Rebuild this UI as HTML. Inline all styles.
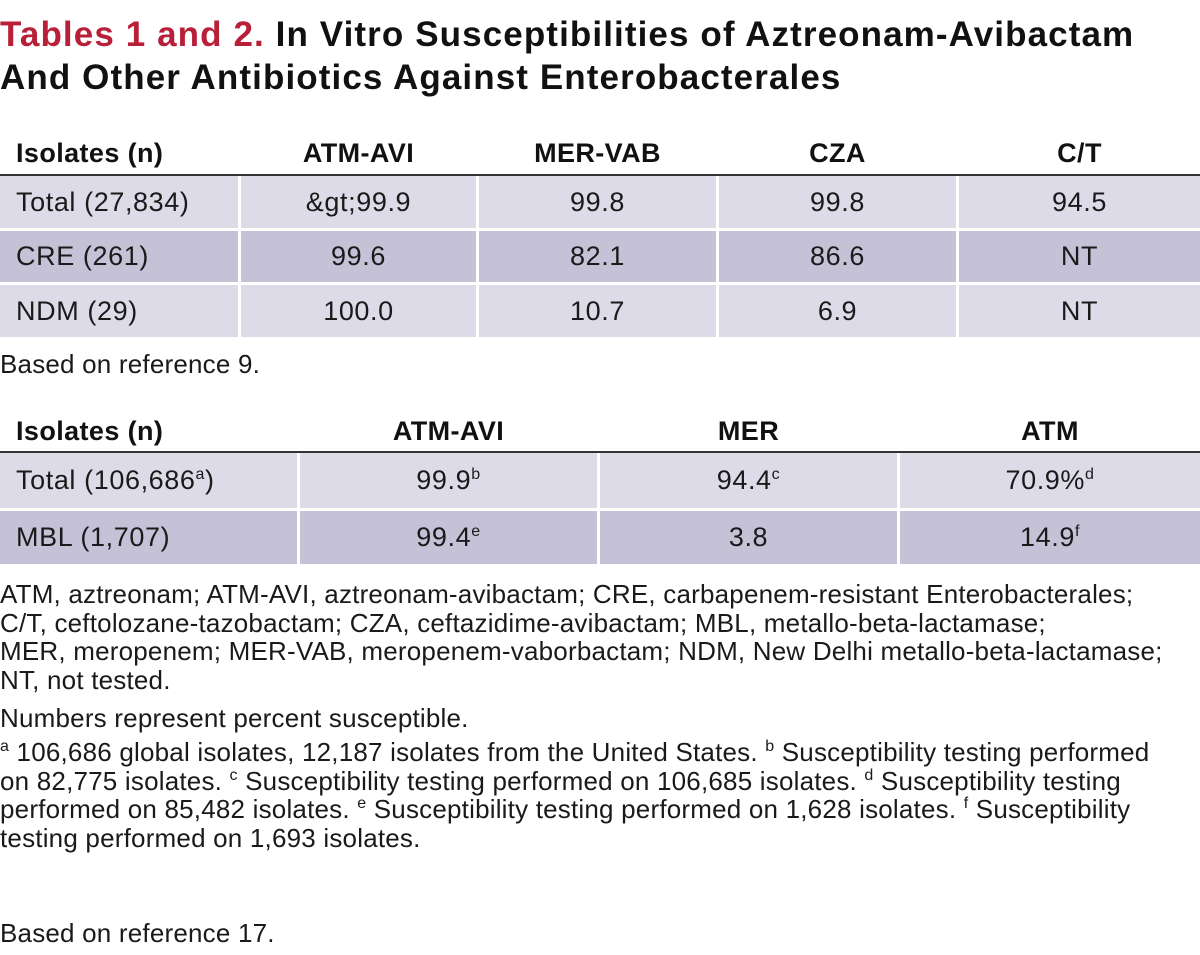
<!DOCTYPE html>
<html><head><meta charset="utf-8"><style>
body{margin:0;width:1200px;height:955px;background:#fff;font-family:"Liberation Sans",sans-serif;color:#1a1a1a;position:relative;overflow:hidden}
.t{position:absolute;left:0;white-space:nowrap}
h1{position:absolute;left:0;top:13px;margin:0;font-size:35px;line-height:43px;font-weight:bold;letter-spacing:1.1px;white-space:nowrap;color:#111}
h1 span{color:#b8203a}
.row{position:absolute;left:0;width:1200px;display:flex}
.row>div{box-sizing:border-box;font-size:27px;letter-spacing:0.6px;display:flex;align-items:center;justify-content:center;border-right:3px solid #fff;white-space:nowrap}
.row>div:last-child{border-right:none}
.row>div:first-child{justify-content:flex-start;padding-left:16px}
.hd>div{font-weight:bold;color:#111;letter-spacing:0.4px}
.l{background:#dddbe8}.d{background:#c5c1d6}
.line{position:absolute;left:0;width:1200px;height:2px;background:#333}
sup{font-size:16px;vertical-align:10px;line-height:0}
.f{font-size:26px;letter-spacing:0.2px;line-height:28.6px}
</style></head><body>
<h1><span>Tables 1 and 2.</span> In Vitro Susceptibilities of Aztreonam-Avibactam<br>And Other Antibiotics Against Enterobacterales</h1>

<div class="row hd" style="top:133px;height:40px"><div style="width:241px">Isolates (n)</div><div style="width:238px">ATM-AVI</div><div style="width:240px">MER-VAB</div><div style="width:240px">CZA</div><div style="width:241px">C/T</div></div>
<div class="line" style="top:174px"></div>
<div class="row l" style="top:176px;height:52px"><div style="width:241px">Total (27,834)</div><div style="width:238px">&amp;gt;99.9</div><div style="width:240px">99.8</div><div style="width:240px">99.8</div><div style="width:241px">94.5</div></div>
<div class="row d" style="top:231px;height:51px"><div style="width:241px">CRE (261)</div><div style="width:238px">99.6</div><div style="width:240px">82.1</div><div style="width:240px">86.6</div><div style="width:241px">NT</div></div>
<div class="row l" style="top:285px;height:52px"><div style="width:241px">NDM (29)</div><div style="width:238px">100.0</div><div style="width:240px">10.7</div><div style="width:240px">6.9</div><div style="width:241px">NT</div></div>
<div class="t f" style="top:350px">Based on reference 9.</div>

<div class="row hd" style="top:411px;height:40px"><div style="width:300px">Isolates (n)</div><div style="width:300px">ATM-AVI</div><div style="width:300px">MER</div><div style="width:300px">ATM</div></div>
<div class="line" style="top:451px"></div>
<div class="row l" style="top:453px;height:55px"><div style="width:300px"><span>Total (106,686<sup>a</sup>)</span></div><div style="width:300px"><span>99.9<sup>b</sup></span></div><div style="width:300px"><span>94.4<sup>c</sup></span></div><div style="width:300px"><span>70.9%<sup>d</sup></span></div></div>
<div class="row d" style="top:511px;height:53px"><div style="width:300px">MBL (1,707)</div><div style="width:300px"><span>99.4<sup>e</sup></span></div><div style="width:300px">3.8</div><div style="width:300px"><span>14.9<sup>f</sup></span></div></div>

<div class="t f" style="top:580px">ATM, aztreonam; ATM-AVI, aztreonam-avibactam; CRE, carbapenem-resistant Enterobacterales;<br>C/T, ceftolozane-tazobactam; CZA, ceftazidime-avibactam; MBL, metallo-beta-lactamase;<br>MER, meropenem; MER-VAB, meropenem-vaborbactam; NDM, New Delhi metallo-beta-lactamase;<br>NT, not tested.</div>
<div class="t f" style="top:704px">Numbers represent percent susceptible.</div>
<div class="t f" style="top:738px"><sup>a</sup> 106,686 global isolates, 12,187 isolates from the United States. <sup>b</sup> Susceptibility testing performed<br>on 82,775 isolates. <sup>c</sup> Susceptibility testing performed on 106,685 isolates. <sup>d</sup> Susceptibility testing<br>performed on 85,482 isolates. <sup>e</sup> Susceptibility testing performed on 1,628 isolates. <sup>f</sup> Susceptibility<br>testing performed on 1,693 isolates.</div>
<div class="t f" style="top:919px">Based on reference 17.</div>
</body></html>
